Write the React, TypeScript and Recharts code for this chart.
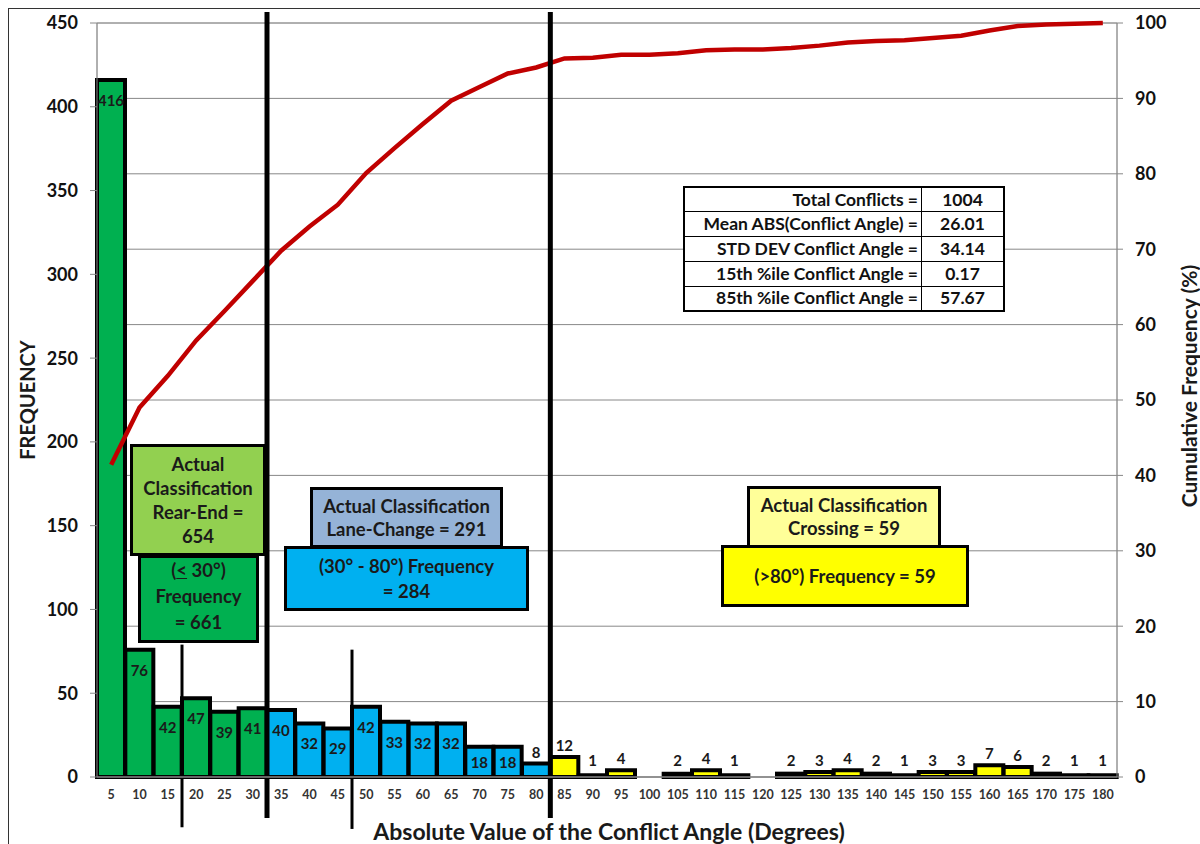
import React from "react";
import {
  ComposedChart,
  Bar,
  Line,
  XAxis,
  YAxis,
  CartesianGrid,
  ReferenceLine,
  LabelList,
  Cell,
} from "recharts";

const angles = [
  5, 10, 15, 20, 25, 30, 35, 40, 45, 50, 55, 60, 65, 70, 75, 80, 85, 90,
  95, 100, 105, 110, 115, 120, 125, 130, 135, 140, 145, 150, 155, 160, 165, 170, 175, 180,
];
const frequency = [
  416, 76, 42, 47, 39, 41, 40, 32, 29, 42, 33, 32, 32, 18, 18, 8, 12, 1,
  4, 0, 2, 4, 1, 0, 2, 3, 4, 2, 1, 3, 3, 7, 6, 2, 1, 1,
];
const cumulativePct = [
  41.4, 49.0, 53.2, 57.9, 61.8, 65.8, 69.8, 73.0, 75.9, 80.1, 83.4, 86.6, 89.7, 91.5, 93.3, 94.1, 95.3, 95.4,
  95.8, 95.8, 96.0, 96.4, 96.5, 96.5, 96.7, 97.0, 97.4, 97.6, 97.7, 98.0, 98.3, 99.0, 99.6, 99.8, 99.9, 100.0,
];
const leftTicks = [0, 50, 100, 150, 200, 250, 300, 350, 400, 450];
const rightTicks = [0, 10, 20, 30, 40, 50, 60, 70, 80, 90, 100];
const statRows = [
  ["Total Conflicts =", "1004"],
  ["Mean ABS(Conflict Angle) =", "26.01"],
  ["STD DEV Conflict Angle =", "34.14"],
  ["15th %ile Conflict Angle =", "0.17"],
  ["85th %ile Conflict Angle =", "57.67"],
];

const data = angles.map((a, i) => ({ angle: a, freq: frequency[i], cum: cumulativePct[i] }));
const binEdges = [0, ...angles];
const minorTicks = Array.from({ length: 46 }, (_, i) => i * 10);

const FONT = "Lato, 'Open Sans', sans-serif";

function barColor(angle: number) {
  if (angle <= 30) return "#00B050";
  if (angle <= 80) return "#00B0F0";
  return "#FFFF00";
}

const BarValue = (props: any) => {
  const x = Number(props.x);
  const y = Number(props.y);
  const w = Number(props.width);
  const h = Number(props.height);
  const cx = x + w / 2;
  const cy = h > 25 ? y + Math.min(20, h / 2) : Math.min(y - 12, 752);
  return (
    <text x={cx} y={cy} textAnchor="middle" dominantBaseline="central"
      fontFamily={FONT} fontSize={15} fontWeight={700} fill="#1a1a1a">
      {props.value}
    </text>
  );
};

const box = (left: number, top: number, width: number, height: number, bg: string, lh: number): React.CSSProperties => ({
  position: "absolute", left, top, width, height, background: bg,
  border: "3px solid #000", boxSizing: "border-box",
  display: "flex", flexDirection: "column", justifyContent: "center", alignItems: "center",
  textAlign: "center", fontFamily: FONT, fontWeight: 700, fontSize: 18.5, lineHeight: `${lh}px`, color: "#1a1a1a",
  whiteSpace: "nowrap",
});

export default function App() {
  return (
    <div style={{ position: "fixed", left: 0, top: 0, width: 1200, height: 844, overflow: "hidden", background: "#fff" }}>
      <div style={{ position: "absolute", left: 8, top: 8 }}>
        <ComposedChart width={1192} height={836} data={data}
          margin={{ top: 15, right: 23, left: 19, bottom: 37 }}
          barCategoryGap={0} barGap={0}>
          <XAxis xAxisId="num" type="number" dataKey="angle" domain={[0, 180]} ticks={binEdges}
            tick={false} axisLine={false} tickLine={{ stroke: "#888" }} tickSize={6} height={0} allowDataOverflow />
          <XAxis xAxisId="cat" dataKey="angle" type="category" interval={0} height={30}
            tickLine={false} axisLine={{ stroke: "#888", strokeWidth: 1.5 }} tickMargin={7}
            tick={{ fontFamily: FONT, fontSize: 12.5, fontWeight: 700, fill: "#333" }} />
          <YAxis yAxisId="left" domain={[0, 450]} ticks={leftTicks} width={70} interval={0}
            tickSize={7} tickMargin={12} axisLine={{ stroke: "#888" }} tickLine={{ stroke: "#888" }}
            tick={{ fontFamily: FONT, fontSize: 18, fontWeight: 700, fill: "#111" }} />
          <YAxis yAxisId="grid" domain={[0, 450]} ticks={minorTicks} width={0} interval={0}
            tick={false} axisLine={false} tickLine={false} />
          <YAxis yAxisId="right" orientation="right" domain={[0, 100]} ticks={rightTicks} width={60} interval={0}
            tickSize={6} tickMargin={12} axisLine={{ stroke: "#888" }} tickLine={{ stroke: "#888" }}
            tick={{ fontFamily: FONT, fontSize: 18, fontWeight: 700, fill: "#111", textAnchor: "start" }} />
          <CartesianGrid xAxisId="num" yAxisId="grid" stroke="#b0b0b0" strokeWidth={1} />
          <CartesianGrid xAxisId="num" yAxisId="right" vertical={false} stroke="#888" strokeWidth={1} />
          <Bar xAxisId="cat" yAxisId="left" dataKey="freq" stroke="#000" strokeWidth={4} isAnimationActive={false}>
            {data.map((d) => (
              <Cell key={d.angle} fill={barColor(d.angle)} />
            ))}
            <LabelList dataKey="freq" content={BarValue} />
          </Bar>
          <Line xAxisId="cat" yAxisId="right" dataKey="cum" type="linear" stroke="#C00000" strokeWidth={4.5}
            dot={false} isAnimationActive={false} />
          <ReferenceLine xAxisId="num" yAxisId="left" ifOverflow="visible" stroke="#000" strokeWidth={5}
            segment={[{ x: 30, y: -24.5 }, { x: 30, y: 456.5 }]} />
          <ReferenceLine xAxisId="num" yAxisId="left" ifOverflow="visible" stroke="#000" strokeWidth={5}
            segment={[{ x: 80, y: -24.5 }, { x: 80, y: 456.5 }]} />
          <ReferenceLine xAxisId="num" yAxisId="left" ifOverflow="visible" stroke="#000" strokeWidth={3}
            segment={[{ x: 15, y: -30 }, { x: 15, y: 79 }]} />
          <ReferenceLine xAxisId="num" yAxisId="left" ifOverflow="visible" stroke="#000" strokeWidth={3}
            segment={[{ x: 45, y: -31 }, { x: 45, y: 76 }]} />
        </ComposedChart>
      </div>

      <div style={{ position: "absolute", left: 8, top: 8, width: 1300, height: 900, borderTop: "1.5px solid #333", borderLeft: "1.5px solid #333", pointerEvents: "none" }} />

      {/* classification boxes */}
      <div style={{ ...box(138, 555, 121, 88, "#00B050", 26), paddingBottom: 6 }}>
        <div>(<u>&lt;</u> 30°)</div>
        <div>Frequency</div>
        <div>= 661</div>
      </div>
      <div style={box(130, 444, 136, 112, "#92D050", 24)}>
        <div>Actual</div>
        <div>Classification</div>
        <div>Rear-End =</div>
        <div>654</div>
      </div>
      <div style={box(310, 487, 193, 61, "#95B3D7", 23)}>
        <div>Actual Classification</div>
        <div>Lane-Change = 291</div>
      </div>
      <div style={box(284, 546, 245, 65, "#00B0F0", 25)}>
        <div>(30° - 80°) Frequency</div>
        <div>= 284</div>
      </div>
      <div style={box(747, 486, 194, 62, "#FFFF99", 23)}>
        <div>Actual Classification</div>
        <div>Crossing = 59</div>
      </div>
      <div style={box(721, 545, 248, 62, "#FFFF00", 24)}>
        <div>(&gt;80°) Frequency = 59</div>
      </div>

      {/* summary table */}
      <table style={{ position: "absolute", left: 683, top: 186, width: 322, height: 124, borderCollapse: "collapse",
        background: "#fff", border: "2px solid #000", fontFamily: FONT, fontWeight: 700, fontSize: 17.5, color: "#111" }}>
        <tbody>
          {statRows.map(([k, v]) => (
            <tr key={k} style={{ height: 24.8 }}>
              <td style={{ border: "1px solid #000", textAlign: "right", padding: "0 3px", width: 230, whiteSpace: "nowrap", lineHeight: "20px" }}>{k}</td>
              <td style={{ border: "1px solid #000", textAlign: "center", padding: 0, lineHeight: "20px" }}>{v}</td>
            </tr>
          ))}
        </tbody>
      </table>

      {/* axis titles */}
      <div style={{ position: "absolute", left: 609, top: 831, transform: "translate(-50%, -50%)", whiteSpace: "nowrap",
        fontFamily: FONT, fontWeight: 700, fontSize: 23, color: "#1a1a1a" }}>
        Absolute Value of the Conflict Angle (Degrees)
      </div>
      <div style={{ position: "absolute", left: 27, top: 400, transform: "translate(-50%, -50%) rotate(-90deg)", whiteSpace: "nowrap",
        fontFamily: FONT, fontWeight: 700, fontSize: 20, color: "#1a1a1a" }}>
        FREQUENCY
      </div>
      <div style={{ position: "absolute", left: 1188, top: 386, transform: "translate(-50%, -50%) rotate(-90deg)", whiteSpace: "nowrap",
        fontFamily: FONT, fontWeight: 700, fontSize: 21, color: "#1a1a1a" }}>
        Cumulative Frequency (%)
      </div>
    </div>
  );
}
